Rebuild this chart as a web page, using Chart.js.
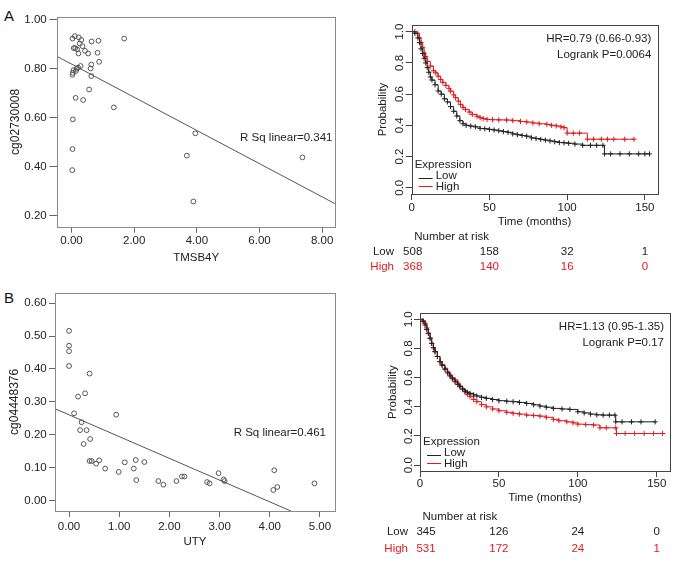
<!DOCTYPE html>
<html>
<head>
<meta charset="utf-8">
<script src="https://cdn.jsdelivr.net/npm/chart.js@4.4.1/dist/chart.umd.min.js"></script>
<style>
html, body { margin: 0; padding: 0; background: #fff; }
body { width: 677px; height: 561px; position: relative; overflow: hidden;
       font-family: "Liberation Sans", Arial, sans-serif; }
.panel { position: absolute; }
.tag { position: absolute; font-size: 15px; line-height: 1; color: #111; }
</style>
</head>
<body>
<div class="tag" style="left:4px;top:8px">A</div>
<div class="tag" style="left:4px;top:290px">B</div>
<div class="panel" style="left:0;top:0;width:340px;height:270px"><canvas id="scatA"></canvas></div>
<div class="panel" style="left:340px;top:0;width:337px;height:280px"><canvas id="kmA"></canvas></div>
<div class="panel" style="left:0;top:280px;width:340px;height:281px"><canvas id="scatB"></canvas></div>
<div class="panel" style="left:340px;top:280px;width:337px;height:281px"><canvas id="kmB"></canvas></div>
<script>
// ── Données : nuage A (TMSB4Y / cg02730008) ───────────────────────────
const A_X = [0.03, 0.105, 0.23, 0.31, 0.26, 0.35, 0.07, 0.12, 0.18, 0.43, 0.22, 0.53,
             0.64, 0.86, 1.68, 0.83, 0.88, 0.63, 0.61, 0.29, 0.21, 0.16, 0.14, 0.06,
             0.04, 0.03, 0.63, 0.56, 0.13, 0.37, 1.35, 0.04, 3.95, 7.37, 0.03, 3.68,
             0.02, 3.89];
const A_Y = [0.922, 0.932, 0.927, 0.916, 0.902, 0.891, 0.883, 0.883, 0.878, 0.872, 0.861, 0.861,
             0.910, 0.913, 0.922, 0.864, 0.827, 0.816, 0.800, 0.810, 0.803, 0.799, 0.790, 0.793,
             0.782, 0.774, 0.769, 0.714, 0.680, 0.671, 0.641, 0.592, 0.535, 0.437, 0.471, 0.444,
             0.385, 0.257];
const A_FIT_X = [-0.46, 8.41];
const A_FIT_Y = [0.849, 0.248];
const A_XTICKS = [0, 2, 4, 6, 8];
const A_YTICKS = [0.2, 0.4, 0.6, 0.8, 1.0];

// ── Données : nuage B (UTY / cg04448376) ──────────────────────────────
const B_X = [0.00, 0.00, 0.00, 0.00, 0.41, 0.18, 0.32, 0.10, 0.94, 0.25, 0.22, 0.35,
             0.42, 0.29, 0.41, 0.45, 0.54, 0.60, 0.72, 0.99, 1.11, 1.29, 1.33, 1.34,
             1.50, 1.78, 1.88, 2.14, 2.25, 2.30, 2.75, 2.80, 2.98, 3.08, 3.10, 4.09,
             4.07, 4.15, 4.89];
const B_Y = [0.516, 0.471, 0.454, 0.409, 0.386, 0.316, 0.326, 0.265, 0.261, 0.238, 0.214, 0.214,
             0.187, 0.172, 0.120, 0.120, 0.112, 0.122, 0.097, 0.087, 0.116, 0.097, 0.123, 0.062,
             0.117, 0.059, 0.048, 0.059, 0.073, 0.073, 0.056, 0.052, 0.083, 0.064, 0.059, 0.092,
             0.032, 0.041, 0.052];
const B_FIT_X = [-0.28, 4.42];
const B_FIT_Y = [0.279, -0.032];
const B_XTICKS = [0, 1, 2, 3, 4, 5];
const B_YTICKS = [0, 0.1, 0.2, 0.3, 0.4, 0.5, 0.6];

// ── Données : Kaplan-Meier ────────────────────────────────────────────
const KM_XTICKS = [0, 50, 100, 150];
const KM_YTICKS = [0, 0.2, 0.4, 0.6, 0.8, 1.0];

const KMA_LOW_T = [0, 2, 4, 5, 6, 7, 8, 9, 10, 11, 12, 13, 15, 17, 19, 21, 23, 25, 27, 29,
                   31, 33, 35, 38, 41, 44, 47, 50, 53, 56, 59, 62, 65, 68, 71, 74, 77, 80, 83, 86,
                   89, 92, 95, 98, 101, 105, 110, 115, 119, 123, 124, 128, 134, 140, 146, 150, 153];
const KMA_LOW_P = [1.0, 0.99, 0.96, 0.93, 0.89, 0.86, 0.83, 0.80, 0.77, 0.74, 0.71, 0.69, 0.66, 0.62, 0.60, 0.57, 0.55, 0.52, 0.49, 0.46,
                   0.43, 0.41, 0.40, 0.395, 0.39, 0.38, 0.378, 0.374, 0.37, 0.365, 0.36, 0.355, 0.345, 0.34, 0.335, 0.33, 0.32, 0.315, 0.31, 0.305,
                   0.30, 0.295, 0.29, 0.288, 0.285, 0.28, 0.272, 0.272, 0.272, 0.272, 0.217, 0.217, 0.217, 0.217, 0.217, 0.217, 0.217];
const KMA_HIGH_T = [0, 2, 3.6, 5, 6, 7, 8, 9, 10, 12, 14, 15.5, 17, 18.6, 20, 22, 24, 25, 27, 28.2,
                    30, 31.4, 33, 34.6, 37, 39, 42, 44, 46, 48.5, 52, 56, 61, 65, 70, 74, 78, 82, 87, 90,
                    93, 96, 98, 100, 104, 108, 113, 117, 122, 126, 130, 137, 143];
const KMA_HIGH_P = [1.0, 1.0, 0.99, 0.96, 0.93, 0.90, 0.864, 0.84, 0.81, 0.78, 0.75, 0.736, 0.715, 0.694, 0.675, 0.655, 0.635, 0.619, 0.595, 0.577,
                    0.555, 0.534, 0.515, 0.502, 0.485, 0.47, 0.458, 0.449, 0.443, 0.438, 0.436, 0.435, 0.434, 0.43, 0.425, 0.421, 0.415, 0.41, 0.406, 0.40,
                    0.396, 0.39, 0.385, 0.35, 0.35, 0.35, 0.311, 0.311, 0.311, 0.311, 0.311, 0.311, 0.311];
const KMA_RISK_LOW  = [508, 158, 32, 1];
const KMA_RISK_HIGH = [368, 140, 16, 0];

const KMB_LOW_T = [0, 2, 3.2, 4.3, 5.3, 6.4, 7.4, 8.5, 9.5, 11, 12.7, 14, 15.8, 17.5, 19, 20.5, 22.2, 24, 25.3, 27,
                   28.5, 30, 31.7, 34, 36, 39, 42, 46, 50, 55, 59, 63, 67.6, 72, 76, 80, 84.5, 90, 95, 100,
                   104, 108, 112, 116, 120, 123.5, 124, 128, 134, 140, 149];
const KMB_LOW_P = [1.0, 0.985, 0.961, 0.93, 0.904, 0.87, 0.835, 0.805, 0.778, 0.745, 0.709, 0.685, 0.657, 0.632, 0.611, 0.592, 0.572, 0.553, 0.538, 0.522,
                   0.508, 0.50, 0.492, 0.482, 0.474, 0.465, 0.458, 0.45, 0.442, 0.438, 0.435, 0.43, 0.423, 0.414, 0.405, 0.397, 0.389, 0.385, 0.382, 0.366,
                   0.358, 0.35, 0.345, 0.343, 0.343, 0.343, 0.297, 0.297, 0.297, 0.297, 0.297];
const KMB_HIGH_T = [0, 2, 3.2, 4.3, 5.3, 6.4, 7.4, 8.5, 9.5, 11, 12.7, 14, 15.8, 17.5, 19, 20.5, 22.2, 24, 25.3, 27,
                    28.5, 30, 31.7, 34, 36, 39, 42, 46, 50, 55, 59, 63, 67.6, 72, 76, 80, 84.5, 88, 93, 97,
                    100, 105, 110, 114, 118, 124, 124.5, 130, 136, 142, 148, 153.7];
const KMB_HIGH_P = [1.0, 0.99, 0.973, 0.94, 0.904, 0.87, 0.835, 0.805, 0.778, 0.745, 0.709, 0.688, 0.664, 0.64, 0.618, 0.60, 0.584, 0.562, 0.542, 0.522,
                    0.503, 0.485, 0.469, 0.45, 0.435, 0.415, 0.40, 0.385, 0.373, 0.362, 0.355, 0.35, 0.343, 0.34, 0.336, 0.328, 0.314, 0.305, 0.297, 0.29,
                    0.281, 0.278, 0.275, 0.256, 0.256, 0.256, 0.217, 0.217, 0.217, 0.217, 0.217, 0.217];
const KMB_RISK_LOW  = [345, 126, 24, 0];
const KMB_RISK_HIGH = [531, 172, 24, 1];

// ── Configuration globale Chart.js ────────────────────────────────────
Chart.defaults.font.family = '"Liberation Sans", Arial, sans-serif';
Chart.defaults.font.size   = 11.5;
Chart.defaults.color       = '#222';

const ROUGE = '#e3191f';
const NOIR  = '#222';

const paires = (xs, ys) => xs.map((x, i) => ({ x, y: ys[i] }));
const fixerTicks = (vals) => (s) => { s.ticks = vals.map(v => ({ value: v })); };

// cadre complet autour de la zone de tracé
const cadre = {
    id: 'cadre',
    afterDatasetsDraw(chart, args, opts) {
        const { ctx, chartArea: a } = chart;
        ctx.save();
        ctx.strokeStyle = opts.color || '#777';
        ctx.lineWidth = 1;
        ctx.strokeRect(Math.round(a.left) + 0.5, Math.round(a.top) + 0.5,
                       Math.round(a.right - a.left), Math.round(a.bottom - a.top));
        ctx.restore();
    },
};

// texte "R Sq linear" placé en coordonnées de données
const rsq = {
    id: 'rsq',
    afterDraw(chart, args, opts) {
        const { ctx, scales } = chart;
        ctx.save();
        ctx.font = '11.5px "Liberation Sans", Arial, sans-serif';
        ctx.fillStyle = '#222';
        ctx.textBaseline = 'middle';
        ctx.fillText(opts.text, scales.x.getPixelForValue(opts.x), scales.y.getPixelForValue(opts.y));
        ctx.restore();
    },
};

// HR, légende "Expression" et tableau des effectifs à risque
const kmDeco = {
    id: 'kmDeco',
    afterDraw(chart, args, o) {
        const { ctx, chartArea: a, scales } = chart;
        ctx.save();
        ctx.font = '11.5px "Liberation Sans", Arial, sans-serif';
        ctx.textBaseline = 'middle';
        ctx.fillStyle = NOIR;
        ctx.textAlign = 'right';
        ctx.fillText(o.hr, a.right - 6, a.top + 14);
        ctx.fillText(o.logrank, a.right - 6, a.top + 29.5);

        // légende
        ctx.textAlign = 'left';
        ctx.fillText('Expression', a.left + 3, a.bottom - 29);
        ctx.fillText('Low', a.left + 24, a.bottom - 18);
        ctx.fillText('High', a.left + 24, a.bottom - 7);
        ctx.lineWidth = 1;
        ctx.strokeStyle = NOIR;
        ctx.beginPath(); ctx.moveTo(a.left + 7, a.bottom - 15.5); ctx.lineTo(a.left + 21, a.bottom - 15.5); ctx.stroke();
        ctx.strokeStyle = ROUGE;
        ctx.beginPath(); ctx.moveTo(a.left + 7, a.bottom - 7.5); ctx.lineTo(a.left + 21, a.bottom - 7.5); ctx.stroke();

        // tableau
        const [y0, y1, y2] = o.rows;
        ctx.fillText('Number at risk', a.left + 2.5, y0);
        ctx.textAlign = 'right';
        ctx.fillText('Low', o.labelX, y1);
        ctx.fillStyle = ROUGE;
        ctx.fillText('High', o.labelX, y2);
        ctx.textAlign = 'center';
        KM_XTICKS.forEach((t, i) => {
            const px = scales.x.getPixelForValue(t) + (i === 0 ? o.decal0 : 0);
            ctx.fillStyle = NOIR;
            ctx.fillText(String(o.low[i]), px, y1);
            ctx.fillStyle = ROUGE;
            ctx.fillText(String(o.high[i]), px, y2);
        });
        ctx.restore();
    },
};

function creerNuage(id, xs, ys, fitX, fitY, xTicks, yTicks, L) {
    return new Chart(document.getElementById(id), {
        type: 'scatter',
        data: {
            datasets: [{
                data: paires(xs, ys),
                pointRadius: 2.4,
                pointBorderWidth: 1,
                pointBorderColor: '#555',
                pointBackgroundColor: 'rgba(0,0,0,0)',
            }, {
                type: 'line',
                data: paires(fitX, fitY),
                showLine: true,
                borderColor: '#555',
                borderWidth: 1,
                pointRadius: 0,
            }],
        },
        options: {
            responsive: true,
            maintainAspectRatio: false,
            animation: false,
            events: [],
            layout: { padding: L.pad },
            plugins: {
                legend: { display: false },
                tooltip: { enabled: false },
                cadre: { color: '#8a8a8a' },
                rsq: L.rsq,
            },
            scales: {
                x: {
                    type: 'linear', min: L.xmin, max: L.xmax,
                    afterBuildTicks: fixerTicks(xTicks),
                    afterFit: s => { s.height = L.xh; },
                    border: { display: false },
                    grid: { drawOnChartArea: false, tickLength: 6, color: '#666' },
                    ticks: { padding: L.xpad, callback: v => v.toFixed(2) },
                    title: { display: true, text: L.xtitle, padding: { top: 0, bottom: L.xtp } },
                },
                y: {
                    type: 'linear', min: L.ymin, max: L.ymax,
                    afterBuildTicks: fixerTicks(yTicks),
                    afterFit: s => { s.width = L.yw; },
                    border: { display: false },
                    grid: { drawOnChartArea: false, tickLength: L.ytl, color: '#666' },
                    ticks: { padding: L.ypad, callback: v => v.toFixed(2) },
                    title: { display: true, text: L.ytitle, font: { size: 12 }, padding: { top: L.ytp, bottom: 0 } },
                },
            },
        },
        plugins: [cadre, rsq],
    });
}

function creerKM(id, lowT, lowP, highT, highP, L) {
    const courbe = (t, p, c) => ({
        type: 'line',
        data: paires(t, p),
        stepped: true,
        borderColor: c,
        borderWidth: 1,
        pointStyle: 'cross',
        pointRadius: ctx => (ctx.dataIndex === 0 ? 0 : 2.6),
        pointBorderColor: c,
        pointBorderWidth: 1,
        fill: false,
    });
    return new Chart(document.getElementById(id), {
        type: 'line',
        data: { datasets: [courbe(lowT, lowP, NOIR), courbe(highT, highP, ROUGE)] },
        options: {
            responsive: true,
            maintainAspectRatio: false,
            animation: false,
            events: [],
            layout: { padding: L.pad },
            plugins: {
                legend: { display: false },
                tooltip: { enabled: false },
                cadre: { color: '#444' },
                kmDeco: L.deco,
            },
            scales: {
                x: {
                    type: 'linear', min: 0, max: L.xmax,
                    afterBuildTicks: fixerTicks(KM_XTICKS),
                    afterFit: s => { s.height = L.xh; },
                    border: { display: false },
                    grid: { drawOnChartArea: false, tickLength: 6, color: '#444' },
                    ticks: { padding: L.xpad },
                    title: { display: true, text: 'Time (months)', padding: { top: 0, bottom: L.xtp } },
                },
                y: {
                    type: 'linear', min: -0.04, max: L.ymax,
                    afterBuildTicks: fixerTicks(KM_YTICKS),
                    afterFit: s => { s.width = L.yw; },
                    border: { display: false },
                    grid: { drawOnChartArea: false, tickLength: 6, color: '#444' },
                    ticks: { padding: L.ypad, minRotation: 90, maxRotation: 90, crossAlign: 'center',
                             callback: v => v.toFixed(1) },
                    title: { display: true, text: 'Probability', padding: { top: L.ytp, bottom: 0 } },
                },
            },
        },
        plugins: [cadre, kmDeco],
    });
}

creerNuage('scatA', A_X, A_Y, A_FIT_X, A_FIT_Y, A_XTICKS, A_YTICKS, {
    pad: { left: 0, top: 17, right: 1.7, bottom: 0 },
    xmin: -0.455, xmax: 8.41, ymin: 0.154, ymax: 1.01,
    xh: 43.3, yw: 57.3, xpad: 1, ypad: 2.6, ytl: 8, xtp: 5.3, ytp: 8.6,
    xtitle: 'TMSB4Y', ytitle: 'cg02730008',
    rsq: { text: 'R Sq linear=0.341', x: 5.38, y: 0.518 },
});

creerNuage('scatB', B_X, B_Y, B_FIT_X, B_FIT_Y, B_XTICKS, B_YTICKS, {
    pad: { left: 0, top: 12.7, right: 1.7, bottom: 0 },
    xmin: -0.28, xmax: 5.3, ymin: -0.032, ymax: 0.632,
    xh: 50, yw: 55, xpad: 2.8, ypad: 2.3, ytl: 6, xtp: 12.4, ytp: 7.4,
    xtitle: 'UTY', ytitle: 'cg04448376',
    rsq: { text: 'R Sq linear=0.461', x: 3.28, y: 0.206 },
});

creerKM('kmA', KMA_LOW_T, KMA_LOW_P, KMA_HIGH_T, KMA_HIGH_P, {
    pad: { left: 0, top: 25, right: 19.7, bottom: 45 },
    xmax: 158, ymax: 1.043, xh: 41, yw: 71.7, xpad: 1.4, ypad: -2.3, xtp: 6.4, ytp: 36.4,
    deco: { hr: 'HR=0.79 (0.66-0.93)', logrank: 'Logrank P=0.0064', decal0: 1,
            low: KMA_RISK_LOW, high: KMA_RISK_HIGH, labelX: 54, rows: [236.7, 252.3, 267] },
});

creerKM('kmB', KMB_LOW_T, KMB_LOW_P, KMB_HIGH_T, KMB_HIGH_P, {
    pad: { left: 0, top: 33.3, right: 7, bottom: 50 },
    xmax: 158.4, ymax: 1.041, xh: 40, yw: 80, xpad: 0.1, ypad: -3, xtp: 5.8, ytp: 45.8,
    deco: { hr: 'HR=1.13 (0.95-1.35)', logrank: 'Logrank P=0.17', decal0: 6,
            low: KMB_RISK_LOW, high: KMB_RISK_HIGH, labelX: 68, rows: [237.3, 251.7, 269.3] },
});
</script>
</body>
</html>
